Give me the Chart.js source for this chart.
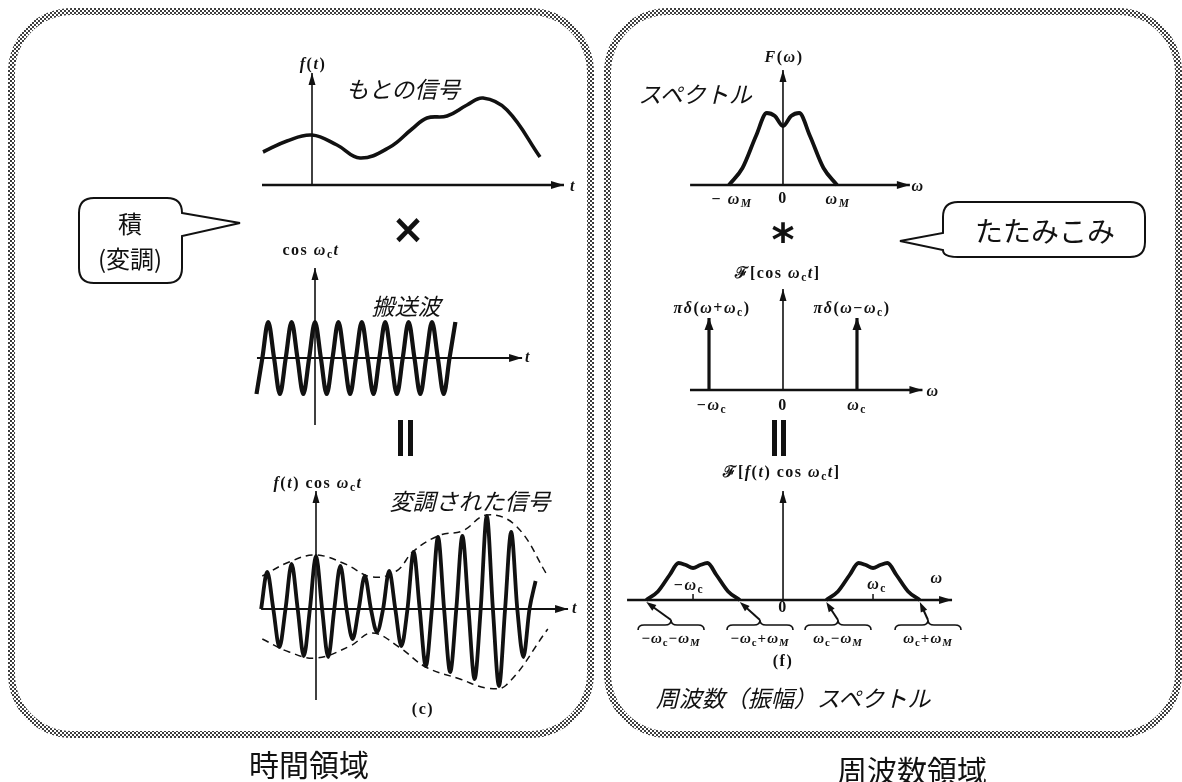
<!DOCTYPE html>
<html>
<head>
<meta charset="utf-8">
<title>変調 — 時間領域と周波数領域</title>
<script src="https://cdn.jsdelivr.net/npm/chart.js"></script>
<style>
  html, body { margin: 0; padding: 0; }
  body { width: 1182px; height: 782px; position: relative; overflow: hidden; background: #fff;
         font-family: "Noto Sans CJK JP", "Noto Sans", sans-serif; color: #111; }
  .panel { position: absolute; border-radius: 64px;
           background: repeating-conic-gradient(#3e3e3e 0% 25%, #fff 0% 50%) 0 0 / 4px 4px; }
  .panel div { position: absolute; left: 7px; top: 7px; right: 7px; bottom: 7px; border-radius: 57px; background: #fff; }
  canvas { position: absolute; }
  .lbl { position: absolute; transform: translate(-50%, -50%); white-space: nowrap; line-height: 1; }
  .m { font-family: "Liberation Serif", "DejaVu Serif", serif; font-weight: bold; font-size: 16px; letter-spacing: 1.5px; }
  .m sub { font-size: 72%; vertical-align: -0.3em; line-height: 0; }
  .s { font-size: 15px; letter-spacing: 1px; }
  .jp { font-style: italic; font-size: 23px; }
  .op { font-family: "DejaVu Sans", sans-serif; font-weight: bold; font-size: 40px; }
  .op2 { font-family: "DejaVu Sans", sans-serif; font-weight: bold; font-size: 44px; }
  .call { font-size: 24px; }
  .tata { font-size: 28px; }
  .big { font-size: 30px; }
  .bar { position: absolute; width: 5px; height: 36px; background: #111; }
  svg { position: absolute; left: 0; top: 0; }
</style>
</head>
<body>

<div class="panel" style="left:8px;top:8px;width:586px;height:730px"><div></div></div>
<div class="panel" style="left:604px;top:8px;width:578px;height:730px"><div></div></div>

<canvas id="c-sig" width="325" height="140" style="left:250px;top:55px"></canvas>
<canvas id="c-car" width="285" height="185" style="left:250px;top:255px"></canvas>
<canvas id="c-mod" width="325" height="230" style="left:250px;top:480px"></canvas>
<canvas id="c-spec" width="255" height="165" style="left:680px;top:45px"></canvas>
<canvas id="c-imp" width="260" height="140" style="left:680px;top:270px"></canvas>
<canvas id="c-out" width="350" height="150" style="left:615px;top:485px"></canvas>

<div class="bar" style="left:398px;top:420px"></div>
<div class="bar" style="left:408px;top:420px"></div>
<div class="bar" style="left:772px;top:420px"></div>
<div class="bar" style="left:781px;top:420px"></div>

<svg width="1182" height="782">
  <path d="M182,213 L240,223 L182,236 L182,268 Q182,283 167,283 L94,283 Q79,283 79,268 L79,213 Q79,198 94,198 L167,198 Q182,198 182,213 Z"
        fill="#fff" stroke="#111" stroke-width="2"/>
  <path d="M958,202 L1130,202 Q1145,202 1145,217 L1145,242 Q1145,257 1130,257 L958,257 Q943,257 943,250 L900,241 L943,233 L943,217 Q943,202 958,202 Z"
        fill="#fff" stroke="#111" stroke-width="2"/>
</svg>

<div id="labels"></div>

<script>
// ---------- values ----------

// original signal f(t)
const sigT = [-0.98, -0.5, 0, 0.5, 0.96, 1.56, 2.0, 2.3, 2.7, 3.1, 3.42, 3.9, 4.56];
const sigF = [0.66, 0.88, 1.0, 0.8, 0.54, 0.76, 1.12, 1.34, 1.38, 1.6, 1.74, 1.5, 0.56];
const sigAxisT = [-1.0, 5.04];
const sigAxisF = [0, 2.24];

// carrier cos(wc t), sampled at its peaks, zeros and troughs
const carT = [-2.5, -2.25, -2, -1.75, -1.5, -1.25, -1, -0.75, -0.5, -0.25, 0, 0.25, 0.5, 0.75, 1, 1.25, 1.5, 1.75,
              2, 2.25, 2.5, 2.75, 3, 3.25, 3.5, 3.75, 4, 4.25, 4.5, 4.75, 5, 5.25, 5.5, 5.75, 6];
const carV = [-1, 0, 1, 0, -1, 0, 1, 0, -1, 0, 1, 0, -1, 0, 1, 0, -1, 0,
              1, 0, -1, 0, 1, 0, -1, 0, 1, 0, -1, 0, 1, 0, -1, 0, 1];
const carAxisT = [-2.48, 8.85];
const carAxisV = [-1.86, 2.5];

// modulated signal f(t) cos(wc t)
const modT = [-2.25, -2, -1.75, -1.5, -1.25, -1, -0.75, -0.5, -0.25, 0, 0.25, 0.5, 0.75, 1, 1.25, 1.5, 1.75,
              2, 2.25, 2.5, 2.75, 3, 3.25, 3.5, 3.75, 4, 4.25, 4.5, 4.75, 5, 5.25, 5.5, 5.75, 6, 6.25, 6.5,
              6.75, 7, 7.25, 7.5, 7.75, 8, 8.25, 8.5, 8.75, 9];
const modV = [0, 0.74, 0, -0.76, 0, 0.9, 0, -0.94, 0, 1.06, 0, -0.96, 0, 0.86, 0, -0.6, 0,
              0.66, 0, -0.46, 0, 0.76, 0, -0.74, 0, 1.14, 0, -1.14, 0, 1.44, 0, -1.26, 0, 1.46, 0, -1.4,
              0, 1.86, 0, -1.54, 0, 1.54, 0, -0.96, 0, 0.56];
const envUpT = [-2.2, -1.1, 0, 1.2, 2.3, 3.3, 4.0, 5.1, 6.0, 7.0, 8.2, 9.5];
const envUpV = [0.66, 0.94, 1.08, 0.9, 0.64, 0.76, 1.16, 1.48, 1.56, 1.88, 1.66, 0.66];
const envLoT = [-2.2, -1.1, 0, 1.4, 2.3, 3.4, 4.5, 5.9, 7.0, 7.8, 9.5];
const envLoV = [-0.6, -0.86, -0.98, -0.74, -0.48, -0.76, -1.16, -1.4, -1.58, -1.52, -0.4];
const modAxisT = [-2.25, 10.33];
const modAxisV = [-1.82, 2.36];

// spectrum F(w), w in units of wM
const specW = [-1, -0.75, -0.5, -0.3, -0.15, 0, 0.15, 0.3, 0.5, 0.75, 1];
const specF = [0, 0.34, 0.98, 1.44, 1.38, 1.18, 1.38, 1.44, 0.98, 0.34, 0];
const specAxisW = [-1.72, 2.35];
const specAxisF = [0, 2.3];

// F[cos wc t]: impulses at -wc and +wc (w in units of wc)
const impW = [-1, 1];
const impH = [1.44, 1.44];
const impAxisW = [-1.257, 1.885];
const impAxisV = [0, 2.02];

// F[f(t) cos wc t]: shifted spectra (w in units of wc)
const bandLoW = [-1.52, -1.39, -1.26, -1.16, -1.08, -1, -0.92, -0.84, -0.74, -0.61, -0.48];
const bandHiW = [0.48, 0.61, 0.74, 0.84, 0.92, 1, 1.08, 1.16, 1.26, 1.39, 1.52];
const bandA = [0, 0.17, 0.5, 0.74, 0.7, 0.64, 0.7, 0.74, 0.5, 0.17, 0];
const outTicksW = [-1, 1];
const outAxisW = [-1.733, 1.878];
const outAxisV = [0, 2.18];

// ---------- drawing ----------

function drawArrow(ctx, x1, y1, x2, y2, len, wid, lw) {
  const ang = Math.atan2(y2 - y1, x2 - x1);
  ctx.save();
  ctx.lineWidth = lw;
  ctx.beginPath();
  ctx.moveTo(x1, y1);
  ctx.lineTo(x2 - Math.cos(ang) * len * 0.8, y2 - Math.sin(ang) * len * 0.8);
  ctx.stroke();
  ctx.translate(x2, y2);
  ctx.rotate(ang);
  ctx.beginPath();
  ctx.moveTo(0, 0);
  ctx.lineTo(-len, -wid / 2);
  ctx.lineTo(-len, wid / 2);
  ctx.closePath();
  ctx.fill();
  ctx.restore();
}

// filled arrowhead on the last point of any dataset that has `arrow`
const arrowPlugin = {
  id: 'arrowHeads',
  afterDatasetsDraw(chart) {
    const ctx = chart.ctx;
    chart.data.datasets.forEach(function (ds, i) {
      if (!ds.arrow) return;
      const pts = chart.getDatasetMeta(i).data;
      const a = pts[pts.length - 2], b = pts[pts.length - 1];
      const ang = Math.atan2(b.y - a.y, b.x - a.x);
      ctx.save();
      ctx.fillStyle = ds.borderColor;
      ctx.translate(b.x, b.y);
      ctx.rotate(ang);
      ctx.beginPath();
      ctx.moveTo(0, 0);
      ctx.lineTo(-ds.arrow[0], -ds.arrow[1] / 2);
      ctx.lineTo(-ds.arrow[0], ds.arrow[1] / 2);
      ctx.closePath();
      ctx.fill();
      ctx.restore();
    });
  }
};

// braces under the band-edge labels, with arrows up to the edges
const braceCenters = [-1.244, -0.256, 0.611, 1.611];
const braceEdges = [bandLoW[0], bandLoW[bandLoW.length - 1], bandHiW[0], bandHiW[bandHiW.length - 1]];
const bracePlugin = {
  id: 'braces',
  afterDatasetsDraw(chart) {
    const ctx = chart.ctx, x = chart.scales.x, y = chart.scales.y;
    const y0 = y.getPixelForValue(0);
    ctx.save();
    ctx.strokeStyle = '#111';
    ctx.fillStyle = '#111';
    ctx.lineWidth = 1.6;
    braceCenters.forEach(function (c, i) {
      const cx = x.getPixelForValue(c), ex = x.getPixelForValue(braceEdges[i]);
      const h = 33, top = y0 + 20, bar = y0 + 25, end = y0 + 30;
      ctx.beginPath();
      ctx.moveTo(cx - h, end);
      ctx.quadraticCurveTo(cx - h, bar, cx - h + 6, bar);
      ctx.lineTo(cx - 6, bar);
      ctx.quadraticCurveTo(cx, bar, cx, top);
      ctx.quadraticCurveTo(cx, bar, cx + 6, bar);
      ctx.lineTo(cx + h - 6, bar);
      ctx.quadraticCurveTo(cx + h, bar, cx + h, end);
      ctx.stroke();
      drawArrow(ctx, cx, top, ex, y0 + 2, 10, 7, 2);
    });
    ctx.restore();
  }
};

function series(xs, ys, style) {
  return Object.assign({
    data: xs.map(function (x, i) { return {x: x, y: ys[i]}; }),
    borderColor: '#111', borderWidth: 2, pointRadius: 0, fill: false, clip: false, tension: 0
  }, style);
}
function hAxis(ext, style) { return series(ext, [0, 0], Object.assign({borderWidth: 2.3, arrow: [13, 8]}, style)); }
function vAxis(ext, style) { return series([0, 0], ext, Object.assign({borderWidth: 1.6, arrow: [12, 7]}, style)); }

function makeChart(id, xr, yr, datasets, extraPlugins) {
  return new Chart(document.getElementById(id), {
    type: 'line',
    data: {datasets: datasets},
    options: {
      responsive: false,
      animation: false,
      events: [],
      layout: {padding: 0},
      plugins: {legend: {display: false}, tooltip: {enabled: false}},
      scales: {
        x: {type: 'linear', min: xr[0], max: xr[1], display: false},
        y: {type: 'linear', min: yr[0], max: yr[1], display: false}
      }
    },
    plugins: [arrowPlugin].concat(extraPlugins || [])
  });
}

const curve = {borderWidth: 3.8, cubicInterpolationMode: 'monotone'};
const dashed = {borderWidth: 1.5, borderDash: [7, 5], tension: 0.4};

makeChart('c-sig', [-1.24, 5.26], [-0.2, 2.6], [
  hAxis(sigAxisT), vAxis(sigAxisF),
  series(sigT, sigF, {borderWidth: 3.6, tension: 0.4})
]);

makeChart('c-car', [-2.778, 9.402], [-2.278, 2.861], [
  hAxis(carAxisT, {borderWidth: 2}), vAxis(carAxisV),
  series(carT, carV, {borderWidth: 4.2, cubicInterpolationMode: 'monotone'})
]);

makeChart('c-mod', [-2.705, 10.615], [-2.02, 2.58], [
  hAxis(modAxisT, {borderWidth: 2}), vAxis(modAxisV),
  series(envUpT, envUpV, dashed), series(envLoT, envLoV, dashed),
  series(modT, modV, curve)
]);

makeChart('c-spec', [-1.907, 2.815], [-0.5, 2.8], [
  hAxis(specAxisW), vAxis(specAxisF),
  series(specW, specF, curve)
]);

makeChart('c-imp', [-1.392, 2.122], [-0.4, 2.4], [
  hAxis(impAxisW), vAxis(impAxisV)
].concat(impW.map(function (w, i) {
  return series([w, w], [0, impH[i]], {borderWidth: 3.2, arrow: [12, 9]});
})));

makeChart('c-out', [-1.867, 2.022], [-0.7, 2.3], [
  hAxis(outAxisW), vAxis(outAxisV),
  series(bandLoW, bandA, curve), series(bandHiW, bandA, curve)
].concat(outTicksW.map(function (w) {
  return series([w, w], [0, 0.12], {borderWidth: 1.5});
})), [bracePlugin]);

// ---------- text ----------
const textLabels = [
  ['m', '<i>f</i>(<i>t</i>)', 313, 64],
  ['m', '<i>t</i>', 573, 186],
  ['jp', 'もとの信号', 403, 88],
  ['op', '×', 408, 229],
  ['m', 'cos <i>ω</i><sub>c</sub><i>t</i>', 311, 250],
  ['m', '<i>t</i>', 528, 357],
  ['jp', '搬送波', 406, 305],
  ['m', '<i>f</i>(<i>t</i>) cos <i>ω</i><sub>c</sub><i>t</i>', 318, 483],
  ['jp', '変調された信号', 470, 500],
  ['m', '<i>t</i>', 575, 608],
  ['m', '(c)', 423, 709],
  ['jp', 'スペクトル', 695, 93],
  ['m', '<i>F</i>(<i>ω</i>)', 784, 57],
  ['m', '<i>ω</i>', 918, 186],
  ['m', '− <i>ω<sub>M</sub></i>', 732, 199],
  ['m', '0', 783, 198],
  ['m', '<i>ω<sub>M</sub></i>', 838, 199],
  ['op2', '*', 783, 240],
  ['m', 'ℱ[cos <i>ω</i><sub>c</sub><i>t</i>]', 778, 273],
  ['m', '<i>πδ</i>(<i>ω</i>+<i>ω</i><sub>c</sub>)', 712, 308],
  ['m', '<i>πδ</i>(<i>ω</i>−<i>ω</i><sub>c</sub>)', 852, 308],
  ['m', '<i>ω</i>', 933, 391],
  ['m', '−<i>ω</i><sub>c</sub>', 712, 405],
  ['m', '0', 783, 405],
  ['m', '<i>ω</i><sub>c</sub>', 857, 405],
  ['m', 'ℱ[<i>f</i>(<i>t</i>) cos <i>ω</i><sub>c</sub><i>t</i>]', 782, 472],
  ['m', '<i>ω</i>', 937, 578],
  ['m', '−<i>ω</i><sub>c</sub>', 689, 585],
  ['m', '<i>ω</i><sub>c</sub>', 877, 584],
  ['m', '0', 783, 607],
  ['m s', '−<i>ω</i><sub>c</sub>−<i>ω<sub>M</sub></i>', 671, 638],
  ['m s', '−<i>ω</i><sub>c</sub>+<i>ω<sub>M</sub></i>', 760, 638],
  ['m s', '<i>ω</i><sub>c</sub>−<i>ω<sub>M</sub></i>', 838, 638],
  ['m s', '<i>ω</i><sub>c</sub>+<i>ω<sub>M</sub></i>', 928, 638],
  ['m', '(f)', 783, 661],
  ['jp', '周波数（振幅）スペクトル', 793, 697],
  ['call', '積', 130, 223],
  ['call', '(変調)', 130, 258],
  ['tata', 'たたみこみ', 1045, 230],
  ['big', '時間領域', 309, 763],
  ['big', '周波数領域', 912, 769]
];

const holder = document.getElementById('labels');
textLabels.forEach(function (t) {
  const d = document.createElement('div');
  d.className = 'lbl ' + t[0];
  d.innerHTML = t[1];
  d.style.left = t[2] + 'px';
  d.style.top = t[3] + 'px';
  holder.appendChild(d);
});
</script>
</body>
</html>
